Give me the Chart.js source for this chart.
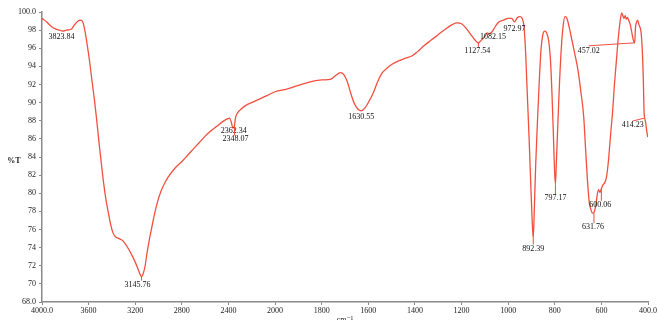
<!DOCTYPE html>
<html>
<head>
<meta charset="utf-8">
<script src="https://cdn.jsdelivr.net/npm/chart.js@4/dist/chart.umd.min.js"></script>
<style>
  html, body { margin: 0; padding: 0; background: #fff; }
  #wrap { width: 658px; height: 320px; }
</style>
</head>
<body>
<div id="wrap"><canvas id="ir" width="658" height="320"></canvas></div>
<script>
// FTIR spectrum: wavenumber (cm-1) and transmittance (%T)
const wavenumbers = [
  4000, 3960, 3920, 3880, 3850, 3823.84, 3790, 3750, 3720, 3690, 3670, 3650, 3630, 3610, 3590,
  3570, 3550, 3530, 3510, 3490, 3470, 3450, 3430, 3410, 3390, 3370, 3340, 3310, 3290, 3260,
  3230, 3200, 3175, 3160, 3145.76, 3130, 3115, 3100, 3080, 3060, 3040, 3010, 2980, 2940, 2900,
  2850, 2800, 2750, 2700, 2650, 2600, 2550, 2500, 2450, 2410, 2390, 2375, 2362.34, 2348.07, 2340,
  2320, 2290, 2250, 2200, 2150, 2100, 2050, 2000, 1950, 1900, 1850, 1800, 1760, 1740, 1720,
  1705, 1690, 1675, 1660, 1645, 1630.55, 1615, 1600, 1580, 1560, 1540, 1520, 1500, 1470, 1440,
  1410, 1390, 1360, 1330, 1300, 1270, 1240, 1220, 1200, 1180, 1160, 1145, 1127.54, 1115, 1100,
  1090, 1082.15, 1070, 1055, 1040, 1020, 1000, 985, 972.97, 960, 950, 940, 932, 925, 918,
  910, 903, 897, 892.39, 888, 882, 875, 868, 860, 852, 843, 835, 826, 818, 812,
  806, 801, 797.17, 793, 787, 780, 772, 764, 756, 748, 738, 728, 715, 700, 688,
  676, 668, 660, 652, 645, 638, 631.76, 625, 618, 612, 606, 600.06, 594, 585, 578,
  570, 562, 552, 544, 536, 528, 520, 513, 508, 503, 498, 493, 488, 483, 476,
  470, 464, 460, 457.02, 454, 450, 444, 439, 430, 424, 420, 417, 414.23, 410, 405,
  401
];
const transmittance = [
  99.3, 98.9, 98.4, 98.1, 98.0, 97.9, 98.0, 98.1, 98.6, 99.0, 99.1, 98.9, 97.8, 96.2, 94.4,
  92.3, 90.3, 88.0, 85.5, 83.2, 81.0, 79.2, 77.8, 76.5, 75.6, 75.2, 75.0, 74.8, 74.5, 73.9,
  73.2, 72.4, 71.6, 71.1, 70.8, 71.2, 72.0, 73.3, 74.8, 76.1, 77.4, 79.0, 80.2, 81.3, 82.1,
  82.9, 83.5, 84.2, 84.9, 85.6, 86.3, 86.9, 87.4, 87.9, 88.2, 88.3, 87.8, 87.2, 87.5, 88.3,
  88.9, 89.3, 89.7, 90.0, 90.3, 90.6, 90.9, 91.2, 91.5, 91.9, 92.3, 92.5, 92.6, 93.0, 93.3,
  93.1, 92.3, 91.0, 89.9, 89.3, 89.1, 89.4, 90.0, 91.0, 92.3, 93.3, 93.8, 94.2, 94.6, 94.9,
  95.2, 95.6, 96.3, 96.9, 97.5, 98.1, 98.6, 98.8, 98.7, 98.2, 97.5, 97.0, 96.6, 96.9, 97.3,
  97.7, 97.6, 97.8, 98.4, 98.9, 99.1, 99.3, 99.3, 98.9, 99.4, 99.5, 99.3, 98.4, 95.5, 91.0,
  86.0, 81.0, 77.0, 75.0, 78.0, 83.0, 87.5, 91.5, 95.5, 97.4, 97.9, 97.7, 96.8, 94.5, 91.0,
  86.5, 82.5, 81.0, 83.5, 87.5, 92.0, 96.0, 98.5, 99.5, 99.3, 98.3, 97.1, 95.5, 93.5, 91.2,
  88.5, 85.0, 81.5, 79.0, 78.2, 77.8, 77.9, 78.5, 79.8, 80.4, 80.1, 80.5, 80.9, 81.2, 81.8,
  83.5, 86.0, 89.0, 92.0, 94.5, 97.0, 98.9, 99.9, 99.6, 99.3, 99.6, 99.2, 99.4, 99.1, 98.6,
  97.8, 97.0, 96.7, 96.6, 98.2, 98.8, 99.1, 98.6, 97.8, 95.5, 92.5, 89.0, 88.3, 87.8, 86.8,
  86.2
];

// Marked band positions (cm-1) and their printed labels
const peakWavenumbers = [3823.84, 3145.76, 2362.34, 2348.07, 1630.55, 1127.54, 1082.15, 972.97,
  892.39, 797.17, 631.76, 600.06, 457.02, 414.23];
const peakLabels = peakWavenumbers.map(w => w.toFixed(2));

// Axis ticks
const xTickWavenumbers = [4000, 3600, 3200, 2800, 2400, 2000, 1800, 1600, 1400, 1200, 1000, 800, 600, 400];
const yTickValues = [68, 70, 72, 74, 76, 78, 80, 82, 84, 86, 88, 90, 92, 94, 96, 98, 100];

// The instrument plots 4000-2000 cm-1 at half the scale of 2000-400 cm-1.
const BREAK = 2000;
function toAxis(w) { return w > BREAK ? BREAK + (w - BREAK) / 2 : w; }
function fromAxis(u) { return u > BREAK ? BREAK + (u - BREAK) * 2 : u; }

// Label placement relative to the band point: [dx, dy, leader]
const peakLayout = [
  [-1, 6, null], [-4, 8, 'v'], [1, 3, null], [1, 14, 'v'], [0, 6, null], [-1, 8, 'v'],
  [4, 3, null], [0, 7, null], [0, 10, 'v'], [0, 14, 'v'], [-1, 15, 'v'], [-1, 16, 'v'],
  [-46, 8, 'h'], [-12, 7, 'h']
];

function transAt(w) {
  for (let i = 0; i < wavenumbers.length - 1; i++) {
    const a = wavenumbers[i], b = wavenumbers[i + 1];
    if (w <= a && w >= b) {
      const t = (a - w) / (a - b);
      return transmittance[i] + t * (transmittance[i + 1] - transmittance[i]);
    }
  }
  return transmittance[transmittance.length - 1];
}

const serif = "'Liberation Serif', 'DejaVu Serif', serif";
const lineColor = '#f24f3e';

const peakPlugin = {
  id: 'peakMarks',
  afterDatasetsDraw(chart) {
    const { ctx, scales: { x, y } } = chart;
    ctx.save();
    ctx.font = '8px ' + serif;
    ctx.fillStyle = '#111';
    ctx.textAlign = 'center';
    ctx.textBaseline = 'middle';
    peakWavenumbers.forEach((w, i) => {
      const px = x.getPixelForValue(toAxis(w));
      const py = y.getPixelForValue(transAt(w));
      const [dx, dy, leader] = peakLayout[i];
      ctx.strokeStyle = lineColor;
      ctx.lineWidth = 1;
      if (leader === 'v') {
        ctx.beginPath();
        ctx.moveTo(px, py);
        ctx.lineTo(px, py + dy - 4);
        ctx.stroke();
      } else if (leader === 'h') {
        ctx.beginPath();
        ctx.moveTo(px, py);
        ctx.lineTo(px + dx, py + 3);
        ctx.stroke();
      }
      ctx.fillText(peakLabels[i], px + dx, py + dy);
    });
    // axis titles
    ctx.fillStyle = '#222';
    ctx.font = 'bold 8px ' + serif;
    ctx.fillText('%T', 14, 161);
    ctx.font = '8px ' + serif;
    ctx.fillText('cm\u207B\u00B9', 345, 320);
    ctx.restore();
  }
};

new Chart(document.getElementById('ir'), {
  type: 'line',
  data: {
    datasets: [{
      data: wavenumbers.map((w, i) => ({ x: toAxis(w), y: transmittance[i] })),
      borderColor: lineColor,
      borderWidth: 1.3,
      pointRadius: 0,
      cubicInterpolationMode: 'monotone',
      fill: false
    }]
  },
  options: {
    responsive: false,
    devicePixelRatio: 1,
    animation: false,
    layout: { padding: { top: 12, right: 6, left: 0, bottom: 0 } },
    plugins: { legend: { display: false }, tooltip: { enabled: false } },
    scales: {
      x: {
        type: 'linear',
        reverse: true,
        min: toAxis(400),
        max: toAxis(4000),
        afterBuildTicks(scale) {
          scale.ticks = xTickWavenumbers.map(w => ({ value: toAxis(w) }));
        },
        afterFit(scale) { scale.height = 18; },
        grid: { drawOnChartArea: false, drawTicks: true, tickLength: 3, color: '#888' },
        border: { display: true, color: '#8a8a8a', width: 1.5 },
        ticks: {
          autoSkip: false,
          maxRotation: 0,
          padding: 1,
          color: '#222',
          font: { family: serif, size: 8 },
          callback(v) {
            const w = Math.round(fromAxis(v));
            return (w === 4000 || w === 400) ? w.toFixed(1) : String(w);
          }
        }
      },
      y: {
        min: 68,
        max: 100,
        afterBuildTicks(scale) {
          scale.ticks = yTickValues.map(v => ({ value: v }));
        },
        afterFit(scale) { scale.width = 42; },
        grid: { drawOnChartArea: false, drawTicks: true, tickLength: 3, color: '#888' },
        border: { display: true, color: '#8a8a8a', width: 1.5 },
        ticks: {
          autoSkip: false,
          padding: 3,
          color: '#222',
          font: { family: serif, size: 8 },
          callback(v) {
            return (v === 100 || v === 68) ? v.toFixed(1) : String(v);
          }
        }
      }
    }
  },
  plugins: [peakPlugin]
});
</script>
</body>
</html>
